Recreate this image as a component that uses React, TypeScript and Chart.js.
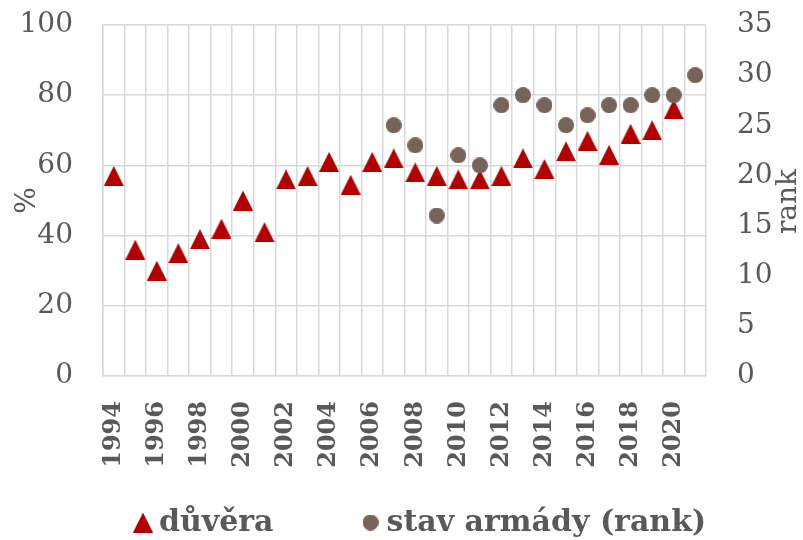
import React, { useEffect, useRef } from 'react';
import { Chart, registerables } from 'chart.js';

Chart.register(...registerables);

// ---- data ----
const years = ['1994', '1995', '1996', '1997', '1998', '1999', '2000', '2001', '2002', '2003', '2004', '2005', '2006', '2007', '2008', '2009', '2010', '2011', '2012', '2013', '2014', '2015', '2016', '2017', '2018', '2019', '2020', '2021'];
const trust = [57, 36, 30, 35, 39, 42, 50, 41, 56, 57, 61, 54.5, 61, 62, 58, 57, 56, 56, 57, 62, 59, 64, 67, 63, 69, 70, 76, null];
const rank = [null, null, null, null, null, null, null, null, null, null, null, null, null, 25, 23, 16, 22, 21, 27, 28, 27, 25, 26, 27, 27, 28, 28, 30];
const seriesNames = ['důvěra', 'stav armády (rank)'];
const leftTitle = '%';
const rightTitle = 'rank';

const TEXT = '#595959';
const GRID = '#d9d9d9';
const RED = '#b00000';
const BROWN = '#766359';
const FONT = "'DejaVu Serif', serif";

function makeMarker(kind: 'triangle' | 'circle', size: number, color: string) {
  const c = document.createElement('canvas');
  c.width = size;
  c.height = size;
  const ctx = c.getContext('2d')!;
  ctx.fillStyle = color;
  ctx.beginPath();
  if (kind === 'triangle') {
    ctx.moveTo(size / 2, 0);
    ctx.lineTo(size, size);
    ctx.lineTo(0, size);
    ctx.closePath();
  } else {
    ctx.arc(size / 2, size / 2, size / 2, 0, Math.PI * 2);
  }
  ctx.fill();
  return c;
}

export default function App() {
  const ref = useRef<HTMLCanvasElement>(null);

  useEffect(() => {
    if (!ref.current) return;
    const tri = makeMarker('triangle', 20, RED);
    const dot = makeMarker('circle', 16, BROWN);

    const rankTitlePlugin = {
      id: 'rankTitle',
      afterDraw(chart: any) {
        const ctx = chart.ctx;
        const area = chart.chartArea;
        const s = chart.scales.y1;
        ctx.save();
        ctx.font = `28px ${FONT}`;
        ctx.fillStyle = TEXT;
        ctx.translate(s.right - 14, (area.top + area.bottom) / 2 + 1);
        ctx.rotate(-Math.PI / 2);
        ctx.textAlign = 'center';
        ctx.textBaseline = 'middle';
        ctx.fillText(rightTitle, 0, 0);
        ctx.restore();
      },
    };

    const legendPlugin = {
      id: 'bottomLegend',
      afterDraw(chart: any) {
        const ctx = chart.ctx;
        ctx.save();
        ctx.font = `bold 30px ${FONT}`;
        ctx.fillStyle = TEXT;
        ctx.textAlign = 'left';
        ctx.textBaseline = 'alphabetic';
        let x = 143;
        const yMid = 522.5;
        const baseline = 531;
        chart.data.datasets.forEach((ds: any) => {
          const img = ds.pointStyle;
          ctx.drawImage(img, x - img.width / 2, yMid - img.height / 2);
          ctx.fillText(ds.label, x + 16, baseline);
          x += 16 + ctx.measureText(ds.label).width + 97;
        });
        ctx.restore();
      },
    };

    const chart = new Chart(ref.current, {
      type: 'line',
      data: {
        labels: years,
        datasets: [
          {
            label: seriesNames[0],
            data: trust,
            yAxisID: 'y',
            showLine: false,
            pointStyle: tri as any,
            pointRadius: 10,
            pointHoverRadius: 10,
            backgroundColor: RED,
            borderColor: RED,
            order: 1,
          },
          {
            label: seriesNames[1],
            data: rank,
            yAxisID: 'y1',
            showLine: false,
            pointStyle: dot as any,
            pointRadius: 8,
            pointHoverRadius: 8,
            backgroundColor: BROWN,
            borderColor: BROWN,
            order: 0,
          },
        ],
      },
      options: {
        responsive: true,
        maintainAspectRatio: false,
        animation: false,
        layout: { padding: { left: 0, top: 25, right: 0, bottom: 0 } },
        plugins: {
          legend: { display: false },
          tooltip: { enabled: false },
        },
        scales: {
          x: {
            offset: true,
            grid: {
              offset: true,
              display: true,
              drawOnChartArea: true,
              color: GRID,
              lineWidth: 1.5,
              drawTicks: true,
              tickLength: 25,
              tickColor: 'rgba(0,0,0,0)',
            },
            border: { color: GRID, width: 1.5 },
            ticks: {
              autoSkip: false,
              maxRotation: 90,
              minRotation: 90,
              padding: 0,
              color: TEXT,
              font: { family: FONT, size: 24, weight: 'bold' },
              callback: (_v: any, i: number) => (Number(years[i]) % 2 === 0 ? years[i] : ''),
            },
            afterFit: (s: any) => {
              s.height = 164;
            },
          },
          y: {
            position: 'left',
            min: 0,
            max: 100,
            ticks: { stepSize: 20, padding: 0, color: TEXT, font: { family: FONT, size: 28 } },
            grid: {
              color: GRID,
              lineWidth: 1.5,
              drawTicks: true,
              tickLength: 30,
              tickColor: 'rgba(0,0,0,0)',
            },
            border: { color: GRID, width: 1.5 },
            title: {
              display: true,
              text: leftTitle,
              color: TEXT,
              font: { family: FONT, size: 28 },
              padding: { top: 11, bottom: 0 },
            },
            afterFit: (s: any) => {
              s.width = 103;
            },
          },
          y1: {
            position: 'right',
            min: 0,
            max: 35,
            ticks: { stepSize: 5, padding: 0, color: TEXT, font: { family: FONT, size: 28 } },
            grid: {
              display: true,
              drawOnChartArea: false,
              drawTicks: true,
              tickLength: 31,
              tickColor: 'rgba(0,0,0,0)',
            },
            border: { display: false },
            afterFit: (s: any) => {
              s.width = 97;
            },
          },
        },
      } as any,
      plugins: [rankTitlePlugin, legendPlugin],
    });

    return () => chart.destroy();
  }, []);

  return (
    <div style={{ position: 'absolute', left: 0, top: 0, width: 803, height: 540 }}>
      <canvas ref={ref} />
    </div>
  );
}
